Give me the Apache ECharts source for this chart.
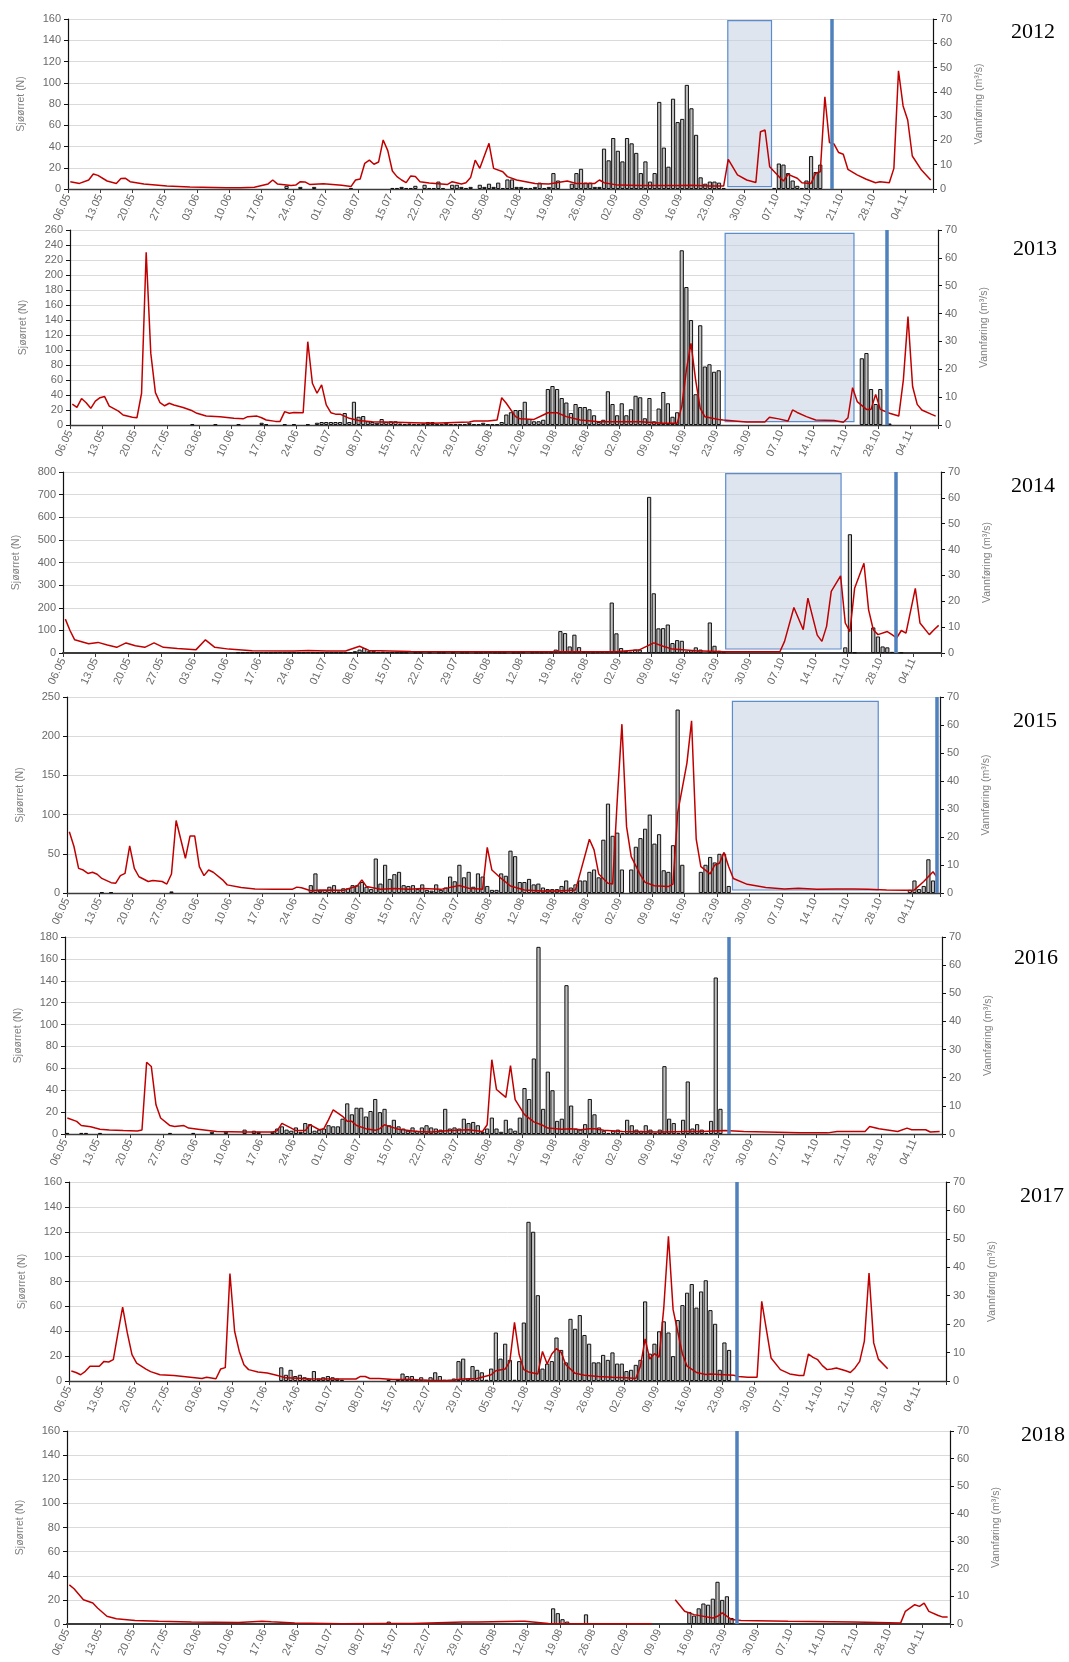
<!DOCTYPE html>
<html><head><meta charset="utf-8">
<script src="https://cdn.jsdelivr.net/npm/echarts/dist/echarts.min.js"></script>
<style>html,body{margin:0;padding:0;background:#fff}#c{width:1069px;height:1662px}</style>
</head><body><div id="c"></div>
<script>
// ---------- DATA ----------
const tickLabels = ['06.05','13.05','20.05','27.05','03.06','10.06','17.06','24.06','01.07','08.07','15.07','22.07','29.07','05.08','12.08','19.08','26.08','02.09','09.09','16.09','23.09','30.09','07.10','14.10','21.10','28.10','04.11'];
const years = ['2012','2013','2014','2015','2016','2017','2018'];

// Sjøørret (N): first day index (0 = 06.05) and daily counts from that day
const fishStart = [47, 26, 37, 7, 0, 45, 68];
const fish2012 = [3,0,0,2,0,0,2, 0,0,0,0,0,0,0, 1, 0,0,0,0,0,0,0,0,
  1,1,2,1,1,3,0,4,1,1,7,1,0,4,4,2,1,2,0,4,
  2,5,2,6,1,9,9,2,2,1,1,2,6,1,2,15,8,0,0,5,
  15,19,6,6,2,2,38,27,48,36,26,48,43,34,15,26,7,15,82,39,
  21,85,63,66,98,76,51,11,5,7,7,6,1,
  0,0,0,0,0,0,0,0,0,0,
  1,24,23,15,8,3,1,8,31,16,23];
const fish2013 = [1,0,0,0,0,1,0,0,0,0,1,0,0,0,0,3,1,0,0,0,1,0,1,0,0,1,0,
  3,4,4,4,4,4,16,4,31,11,12,5,4,3,8,4,5,5,2,1,2,1,1,2,4,4,1,1,3,1,1,1,1,3,1,1,3,1,1,1,
  4,14,17,20,20,31,8,5,5,7,
  48,52,48,36,30,16,28,24,24,21,13,4,7,45,28,13,29,13,21,39,37,9,36,5,22,44,29,11,17,
  233,184,140,41,133,78,81,71,73,
  0,0,0,0,0,0,0,0,0,0,0,0,0,0,0,0,0,0,0,0,0,0,0,0,0,0,0,0,0,0,
  89,96,48,28,48,0,2];
const fish2014 = [3,3,4,3,3,4,3,2,3,4,3,2,3,2,3,4,3,2,3,4,3,3,2,3,4,
  8,15,22,8,10,5,6,4,3,3,2,
  2,0,2,2,0,2,0,2,2,0,2,0,2,2,0,2,2,
  4,8,3,2,2,0,2,2,3,0,3,4,3,4,3,
  15,97,88,29,81,26,5,4,3,4,5,6,223,87,22,10,6,15,15,0,690,264,109,110,126,44,57,54,7,12,25,15,0,135,32,10,4,
  0,0,0,0,0,0,0,0,0,0,0,0,0,0,0,0,0,0,0,0,0,0,0,0,0,
  25,525,3,0,0,0,113,73,29,25,5,0,3];
const fish2015 = [1,0,1, 0,0,0,0,0,0,0,0,0,0,0,0, 2,
  0,0,0,0,0,0,0,0,0,0,0,0,0,0,0,0,0,0,0,0,0,0,0,0,0,0,0,0,0,
  10,25,3,4,8,10,2,6,6,10, 10,14,8,5,44,12,36,18,24,27, 10,9,10,5,11,4,3,11,4,7,
  21,15,36,20,27,8,25,21,9,4, 4,25,22,54,47,14,14,18,11,12,
  7,5,5,5,9,16,7,11,16,16, 27,30,20,68,114,73,77,30,0,30, 59,70,82,100,63,75,29,27,61,234,
  36,0,0,0,27,36,46,39,50,50, 9,
  0,0,0,0,0,0,0,0,0,0,0,0,0,0,0,0,0,0,0,0,0,0,0,0,0,0,0,0,0,0,0,0,0,0,0,0,0,0,
  4,16,5,9,43,16];
const fish2016 = [1,0,0,1,1,0,0,1, 0,0,0,0,0,0,0,0,0,0,0,0,0,0, 1,0,0,0,0,1,0,0,0,2,0,0,2,0,0,0,4,0,3,2,0,0,2,
  5,7,4,3,6,2,10,9,3,4, 5,8,7,7,14,28,18,24,24,16, 21,32,20,23,8,13,7,5,3,6,
  3,6,8,6,5,4,23,5,6,5, 14,10,11,8,2,5,15,5,2,13, 5,3,15,
  42,32,69,171,23,57,40,12,14,136, 26,5,4,9,32,18,6,3,1,3, 4,1,13,8,4,3,8,4,1,4,
  62,14,10,1,13,48,5,9,4,1, 12,143,23];
const fish2017 = [11,5,9,4,5,3,2,8,2,3,4,3,2,1, 0,0,0,0,0,0,0,0,0,
  1,0,1,6,4,4,1,3,1,3, 7,4,1,1,2,16,18,2,12,9, 7,1,10,39,18,30,17,1,16,47, 128,120,69,
  10,14,16,35,25,15,50,42,53,37, 30,15,15,21,17,23,14,14,8,9, 13,17,64,22,30,40,48,39,20,49,
  61,71,78,59,72,81,57,46,9,31, 25];
const fish2018 = [2, 0,0,0,0,0,0,0,0,0,0,0,0,0,0,0,0,0,0,0,0,0,0,0,0,0,0,0,0,0,0,0,0,0,0,
  13,9,4,2, 0,0,0, 8,
  0,0,0,0,0,0,0,0,0,0,0,0,0,0,0,0,0,0,0,0,0,
  10,7,13,17,16,21,35,20,23,5];

// Vannføring (m3/s): [day index, flow]
const flow2012 = [[0,3.0],[2,2.3],[4,3.7],[5,6.2],[6,5.6],[8,3.3],[10,2.3],[11,4.3],[12,4.4],[13,3.0],[16,2.1],[21,1.2],[26,0.8],[34,0.5],[37,0.5],[40,0.7],[43,2.1],[44,3.7],[45,2.1],[48,1.4],[49,1.6],[50,3.0],[51,2.9],[52,1.9],[55,2.2],[59,1.5],[61,1.0],[62,3.7],[63,4.1],[64,10.6],[65,11.9],[66,10.2],[67,11.1],[68,20.2],[69,15.8],[70,7.4],[71,5.1],[72,3.7],[73,2.6],[74,5.4],[75,5.1],[76,3.0],[78,2.5],[82,1.9],[83,3.0],[85,2.1],[86,2.6],[87,4.7],[88,11.9],[89,8.5],[91,18.8],[92,8.5],[94,7.1],[95,5.1],[97,3.7],[101,2.3],[104,2.1],[108,3.3],[110,2.3],[114,2.3],[115,3.7],[116,2.6],[119,1.6],[124,1.4],[132,1.4],[135,1.5],[139,1.2],[142,1.2],[143,12.2],[145,5.8],[147,3.7],[149,2.7],[150,23.6],[151,24.3],[152,9.2],[154,5.1],[155,3.3],[156,6.0],[158,4.4],[159,2.6],[161,2.3],[162,6.5],[163,7.1],[164,38.0],[165,19.1],[166,18.5],[167,15.0],[168,14.3],[169,8.1],[171,5.8],[173,4.0],[175,2.6],[176,3.0],[178,2.6],[179,8.5],[180,48.7],[181,34.2],[182,28.4],[183,13.6],[185,7.8],[186,5.8],[187,3.7]];
const flow2013 = [[0,7.5],[1,6.3],[2,9.5],[3,8.0],[4,6.0],[5,8.6],[6,9.8],[7,10.2],[8,6.8],[10,5.0],[11,3.6],[13,2.8],[14,2.6],[15,11.4],[16,62.0],[17,25.7],[18,11.6],[19,8.0],[20,6.9],[21,7.8],[22,7.2],[24,6.3],[26,5.1],[27,4.2],[29,3.2],[32,3.0],[35,2.4],[37,2.2],[38,3.0],[40,3.2],[41,2.6],[42,1.8],[44,1.3],[45,1.3],[46,4.8],[47,4.2],[48,4.5],[50,4.4],[51,29.9],[52,15.0],[53,11.4],[54,14.4],[55,7.2],[56,4.4],[57,3.9],[58,3.9],[60,2.4],[62,1.6],[65,1.2],[70,1.0],[78,0.6],[86,1.1],[87,1.4],[90,1.4],[92,1.8],[93,9.8],[94,7.8],[96,3.0],[97,2.2],[100,2.0],[102,3.6],[103,4.4],[105,4.4],[107,3.0],[110,1.8],[114,1.2],[118,1.2],[123,1.2],[128,0.6],[131,0.6],[132,6.6],[133,19.7],[134,29.3],[135,16.2],[136,6.0],[137,3.0],[140,2.0],[141,1.8],[146,1.1],[150,1.1],[151,2.8],[153,2.2],[155,1.4],[156,5.4],[157,4.5],[159,3.0],[161,1.8],[165,1.6],[167,1.0],[168,2.6],[169,13.4],[170,8.4],[172,5.6],[173,5.6],[174,11.0],[175,5.6],[177,4.2],[179,3.2],[180,16.2],[181,38.9],[182,13.8],[183,7.4],[184,5.4],[186,3.9],[187,3.2]];
const flow2014 = [[0,13.1],[1,8.7],[2,5.1],[5,3.6],[7,4.1],[9,3.1],[11,2.2],[13,3.9],[15,2.8],[17,2.2],[19,3.9],[21,2.2],[24,1.7],[28,1.3],[30,5.1],[32,2.2],[35,1.5],[40,0.9],[49,0.8],[52,1.0],[56,0.8],[60,0.8],[63,2.6],[65,1.0],[74,0.6],[88,0.5],[104,0.5],[118,0.5],[123,1.3],[126,3.9],[128,2.6],[130,1.5],[135,0.9],[141,0.5],[153,0.5],[154,4.5],[156,17.6],[158,9.0],[159,21.2],[161,6.9],[162,4.5],[163,10.3],[164,23.8],[166,29.8],[167,11.6],[168,8.3],[169,25.0],[171,34.7],[172,16.7],[173,9.0],[174,7.1],[176,8.3],[177,7.1],[178,5.8],[179,8.7],[180,7.7],[182,25.0],[183,11.6],[185,7.1],[186,9.0],[187,10.7]];
const flow2015 = [[0,21.9],[1,16.6],[2,8.8],[3,8.2],[4,7.0],[5,7.4],[6,6.7],[7,5.2],[9,3.7],[10,3.5],[11,6.2],[12,7.0],[13,16.8],[14,8.8],[15,5.8],[17,4.1],[18,4.5],[20,4.1],[21,3.2],[22,6.8],[23,25.9],[25,12.4],[26,20.4],[27,20.4],[28,9.4],[29,6.2],[30,8.2],[31,7.4],[33,4.7],[34,2.9],[37,2.0],[40,1.4],[44,1.3],[48,1.3],[49,2.1],[50,1.9],[52,0.8],[54,1.1],[59,1.0],[62,2.5],[63,4.7],[64,2.3],[67,1.3],[70,1.6],[73,1.3],[76,1.6],[80,1.3],[84,2.7],[86,1.7],[89,1.3],[90,16.3],[91,8.2],[93,5.2],[95,2.5],[98,1.1],[102,0.7],[105,0.7],[109,1.1],[110,7.0],[112,19.2],[113,15.4],[114,6.8],[116,3.5],[117,3.2],[118,33.3],[119,60.3],[120,23.7],[121,13.0],[123,6.4],[124,3.8],[126,2.6],[129,2.3],[130,3.2],[131,28.5],[133,46.4],[134,61.5],[135,19.2],[136,9.4],[138,6.8],[139,10.0],[140,10.6],[141,14.5],[142,9.4],[143,5.2],[146,3.1],[150,2.0],[154,1.4],[157,1.7],[161,1.3],[165,1.4],[169,1.4],[172,1.3],[176,1.1],[180,1.0],[182,1.1],[184,4.1],[186,7.6],[187,5.2]];
const flow2016 = [[0,5.7],[2,4.5],[3,3.0],[5,2.6],[6,2.1],[7,1.7],[9,1.4],[12,1.2],[15,1.1],[16,1.4],[17,25.5],[18,24.0],[19,10.4],[20,5.7],[22,3.0],[23,2.7],[25,3.0],[26,2.1],[28,1.7],[32,0.9],[38,0.7],[44,0.7],[45,1.2],[46,3.8],[48,2.1],[49,1.2],[51,1.2],[52,3.3],[54,1.5],[55,1.9],[56,5.1],[57,8.6],[59,6.3],[60,4.5],[61,4.5],[62,3.0],[64,1.9],[66,1.3],[67,1.9],[68,3.3],[69,2.7],[71,1.7],[75,0.9],[78,0.7],[82,1.2],[86,1.5],[89,0.9],[90,3.3],[91,26.4],[92,15.8],[94,13.0],[95,24.3],[96,12.2],[98,6.9],[100,4.3],[102,3.0],[103,2.1],[106,1.7],[108,1.9],[110,1.5],[112,1.9],[113,1.9],[115,1.3],[119,0.9],[127,0.7],[133,0.9],[136,0.9],[141,1.2],[145,0.9],[150,0.7],[157,0.4],[163,0.4],[165,0.9],[171,0.9],[172,2.7],[174,1.9],[178,0.9],[180,2.1],[181,1.5],[184,1.5],[185,0.7],[187,0.9]];
const flow2017 = [[0,3.5],[1,3.0],[2,2.2],[3,3.4],[4,5.2],[6,5.2],[7,6.9],[8,6.7],[9,7.5],[10,16.9],[11,26.0],[12,16.9],[13,9.3],[14,6.3],[16,4.2],[17,3.3],[19,2.2],[22,1.9],[25,1.4],[28,0.9],[29,1.3],[31,0.8],[32,4.2],[33,4.7],[34,37.8],[35,17.5],[36,10.4],[37,5.7],[38,4.0],[40,3.2],[42,2.8],[44,2.0],[46,1.1],[51,0.8],[59,0.7],[61,0.7],[62,1.6],[63,1.6],[64,0.9],[66,0.9],[69,0.5],[73,0.5],[77,0.2],[81,0.2],[84,0.7],[87,0.9],[90,2.2],[91,3.6],[93,4.2],[94,6.9],[95,20.6],[96,9.3],[97,4.0],[98,3.2],[100,2.5],[101,10.4],[102,6.0],[103,9.5],[104,11.4],[105,10.1],[106,5.7],[108,2.7],[110,2.0],[113,1.6],[116,1.3],[119,1.1],[121,0.9],[122,5.2],[123,14.8],[124,7.7],[125,9.6],[126,8.4],[127,25.7],[128,50.9],[129,25.1],[131,9.5],[132,5.2],[134,3.0],[136,2.3],[137,2.5],[139,2.3],[140,2.2],[142,2.0],[143,1.6],[145,1.3],[147,1.3],[148,28.0],[149,18.1],[150,8.1],[152,4.0],[154,2.5],[156,1.9],[157,1.9],[158,9.5],[159,8.3],[160,7.5],[161,5.4],[162,4.0],[163,4.2],[164,4.6],[166,3.6],[167,3.0],[168,4.6],[169,6.9],[170,14.0],[171,38.0],[172,13.4],[173,7.7],[175,4.3]];
const flow2018 = [[0,14.2],[1,12.8],[3,8.8],[5,7.6],[6,5.8],[8,2.8],[10,1.9],[14,1.3],[19,1.0],[26,0.7],[36,0.5],[41,1.0],[43,0.8],[48,0.4],[58,0.1],[67,0.2],[73,0.2],[84,0.7],[87,0.7],[96,1.0],[97,1.0],[102,0.2],[116,0.1],[124,0.1],[126,null],[129,8.8],[131,4.6],[133,3.4],[137,2.2],[138,2.8],[139,4.0],[141,1.6],[143,1.3],[153,1.0],[167,0.7],[177,0.4],[178,4.6],[180,7.0],[181,6.4],[182,7.6],[183,4.6],[185,3.1],[186,2.5],[187,2.5]];

// Axis ranges
const leftMax  = [160, 260, 800, 250, 180, 160, 160];
const leftStep = [20, 20, 100, 50, 20, 20, 20];
const rightMax = 70, rightStep = 10;

// Shaded periods (day from, day to, count low, count high) and trap-end marker day
const shadeFrom = [143.4, 141.9, 141.9, 143.3, null, null, null];
const shadeTo   = [152.9, 169.8, 166.6, 174.7, null, null, null];
const shadeLow  = [2.2, 4.4, 17.6, 3.8, null, null, null];
const shadeHigh = [158.4, 255.6, 793, 244.5, null, null, null];
const trapEnd   = [165.9, 177.0, 178.3, 187.3, 142.3, 143.1, 142.7];

// ---------- LAYOUT ----------
const panels = [
  {l:68, r:933, t:19,   b:189,  yx:1033, yy:32,   axw:1.3},
  {l:70, r:938, t:230,  b:425,  yx:1035, yy:249,  axw:1.3},
  {l:63, r:941, t:472,  b:653,  yx:1033, yy:486,  axw:2.2},
  {l:67, r:940, t:697,  b:893,  yx:1035, yy:721,  axw:1.3},
  {l:65, r:942, t:937,  b:1134, yx:1036, yy:958,  axw:1.3},
  {l:69, r:946, t:1182, b:1381, yx:1042, yy:1196, axw:1.3},
  {l:67, r:950, t:1431, b:1624, yx:1043, yy:1435, axw:2.2}
];
const fishAll = [fish2012, fish2013, fish2014, fish2015, fish2016, fish2017, fish2018];
const flowAll = [flow2012, flow2013, flow2014, flow2015, flow2016, flow2017, flow2018];

const FONT = '"Liberation Sans", Arial, sans-serif';
const grid = [], xAxis = [], yAxis = [], series = [], graphic = [];
panels.forEach((p, i) => {
  grid.push({left:p.l, top:p.t, width:p.r - p.l, height:p.b - p.t});
  xAxis.push({
    type:'value', gridIndex:i, min:0, max:188, interval:7,
    axisLine:{show:true, onZero:false, lineStyle:{color:'#3c3c3c', width:p.axw}},
    axisTick:{show:true, length:4, lineStyle:{color:'#3c3c3c'}},
    axisLabel:{rotate:65, fontSize:11, color:'#6a6a6a', fontFamily:FONT, margin:6,
      formatter: v => (v % 7 === 0 && tickLabels[v/7]) ? tickLabels[v/7] : ''},
    splitLine:{show:false}
  });
  yAxis.push({
    type:'value', gridIndex:i, position:'left', min:0, max:leftMax[i], interval:leftStep[i],
    name:'Sjøørret (N)', nameLocation:'middle', nameGap:41, nameRotate:90,
    nameTextStyle:{fontSize:10.5, color:'#7f7f7f', fontFamily:FONT},
    axisLine:{show:true, lineStyle:{color:'#111', width:1.2}},
    axisTick:{show:true, length:4, lineStyle:{color:'#111'}},
    axisLabel:{fontSize:11, color:'#6a6a6a', fontFamily:FONT, margin:7},
    splitLine:{show:true, lineStyle:{color:'#dadada', width:1}}
  });
  yAxis.push({
    type:'value', gridIndex:i, position:'right', min:0, max:rightMax, interval:rightStep,
    name:'Vannføring (m³/s)', nameLocation:'middle', nameGap:41, nameRotate:90,
    nameTextStyle:{fontSize:10.5, color:'#7f7f7f', fontFamily:FONT},
    axisLine:{show:true, lineStyle:{color:'#111', width:1.2}},
    axisTick:{show:true, length:4, lineStyle:{color:'#111'}},
    axisLabel:{fontSize:11, color:'#6a6a6a', fontFamily:FONT, margin:7},
    splitLine:{show:false}
  });

  const bars = [];
  fishAll[i].forEach((v, k) => { if (v > 0) bars.push([fishStart[i] + k + 0.5, v]); });

  const barSeries = {
    type:'bar', name:'Sjøørret ' + years[i], xAxisIndex:i, yAxisIndex:2*i,
    data:bars, barWidth:4.2,
    itemStyle:{color:'#c0c0c0', borderColor:'#111', borderWidth:1},
    silent:true, z:2,
    markLine:{
      silent:true, symbol:['none','none'], label:{show:false}, animation:false,
      lineStyle:{color:'#4f81bd', width:3.5, type:'solid', opacity:1},
      data:[[{coord:[trapEnd[i], leftMax[i]]}, {coord:[trapEnd[i], 0]}]]
    }
  };
  if (shadeFrom[i] != null) {
    barSeries.markArea = {
      silent:true, label:{show:false},
      itemStyle:{color:'rgba(196,207,226,0.55)', borderColor:'#5b8ccc', borderWidth:1.2},
      data:[[{coord:[shadeFrom[i], shadeHigh[i]]}, {coord:[shadeTo[i], shadeLow[i]]}]]
    };
  }
  series.push(barSeries);
  series.push({
    type:'line', name:'Vannføring ' + years[i], xAxisIndex:i, yAxisIndex:2*i+1,
    data: flowAll[i].map(([d, v]) => [d + 0.5, v == null ? '-' : v]),
    showSymbol:false, symbol:'none', connectNulls:false, silent:true, z:3,
    lineStyle:{color:'#c00000', width:1.5}, itemStyle:{color:'#c00000'}
  });

  graphic.push({type:'text', x:p.yx, y:p.yy, silent:true,
    style:{text:years[i], font:'22px "Liberation Serif", "DejaVu Serif", serif', fill:'#000',
      align:'center', verticalAlign:'middle'}});
});

const chart = echarts.init(document.getElementById('c'), null, {renderer:'canvas'});
chart.setOption({animation:false, backgroundColor:'#fff', grid, xAxis, yAxis, series, graphic});
</script>
</body></html>
